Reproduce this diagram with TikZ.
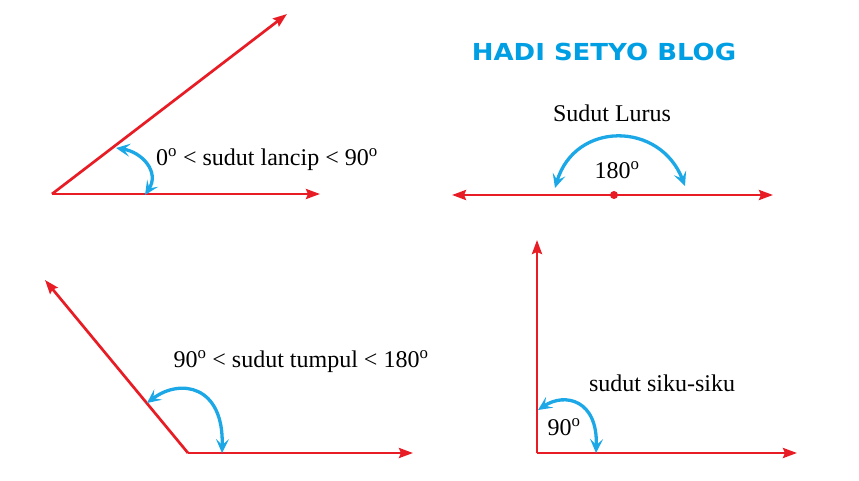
\documentclass[tikz,border=0pt]{standalone}
\usepackage{fontspec}
\setmainfont{Liberation Serif}
\newfontfamily\titlefont{DejaVu Sans}
\usetikzlibrary{arrows.meta}
\definecolor{garis}{RGB}{232,28,36}
\definecolor{busur}{RGB}{28,168,230}
\definecolor{judul}{RGB}{0,158,226}
\tikzset{
  sinar/.style={draw=garis, line width=2.7pt, -{Stealth[length=14pt,width=10pt,inset=2pt]}},
  busurpanah/.style={draw=busur, line width=3.3pt,
    {Stealth[length=14pt,width=13pt,inset=6pt]}-{Stealth[length=14pt,width=13pt,inset=6pt]}},
  label/.style={font=\fontsize{24}{28}\selectfont, text=black, inner sep=0pt}
}
\newcommand{\drj}{\textsuperscript{o}}
\begin{document}
\begin{tikzpicture}[x=1pt,y=-1pt]
  \useasboundingbox (0,0) rectangle (859,481);
  % judul
  \node[font=\titlefont\bfseries\fontsize{26}{30}\selectfont, text=judul, inner sep=0pt, yscale=0.9] (judul) at (604,52) {HADI SETYO BLOG};
  % sudut lancip
  \coordinate (O1) at (52,194);
  \coordinate (H1) at (320,194);
  \coordinate (M1) at (287,14);
  \draw[sinar] (O1) -- (H1);
  \draw[sinar] (O1) -- (M1);
  \coordinate (b1a) at (116,148);
  \coordinate (b1b) at (145,195);
  \draw[busurpanah] (b1a) .. controls (142,152) and (160,172) .. (b1b);
  \node[label, anchor=west] (lancip) at (156,160) {0\drj{} < sudut lancip < 90\drj};
  % sudut lurus
  \coordinate (O2) at (614,195);
  \coordinate (K2) at (452,195);
  \coordinate (H2) at (773,195);
  \draw[sinar] (O2) -- (K2);
  \draw[sinar] (O2) -- (H2);
  \fill[garis] (O2) circle (4pt);
  \coordinate (b2a) at (555,188);
  \coordinate (b2b) at (685,186);
  \draw[busurpanah] (b2a) .. controls (575,121) and (660,121) .. (b2b);
  \node[label] (lurus) at (612,113) {Sudut Lurus};
  \node[label] (seratus) at (617,170) {180\drj};
  % sudut tumpul
  \coordinate (O3) at (188,453);
  \coordinate (H3) at (413,453);
  \coordinate (M3) at (45,280);
  \draw[sinar] (O3) -- (H3);
  \draw[sinar] (O3) -- (M3);
  \coordinate (b3a) at (147,403);
  \coordinate (b3b) at (222,453);
  \draw[busurpanah] (b3a) .. controls (180,378) and (224,385) .. (b3b);
  \node[label] (tumpul) at (301,362) {90\drj{} < sudut tumpul < 180\drj};
  % sudut siku-siku
  \coordinate (O4) at (537,453);
  \coordinate (A4) at (537,240);
  \coordinate (H4) at (797,453);
  \draw[sinar] (O4) -- (A4);
  \draw[sinar] (O4) -- (H4);
  \coordinate (b4a) at (538,410);
  \coordinate (b4b) at (596,453);
  \draw[busurpanah] (b4a) .. controls (565,392) and (598,400) .. (b4b);
  \node[label] (siku) at (662,383) {sudut siku-siku};
  \node[label] (sembilan) at (564,427) {90\drj};
\end{tikzpicture}
\end{document}
